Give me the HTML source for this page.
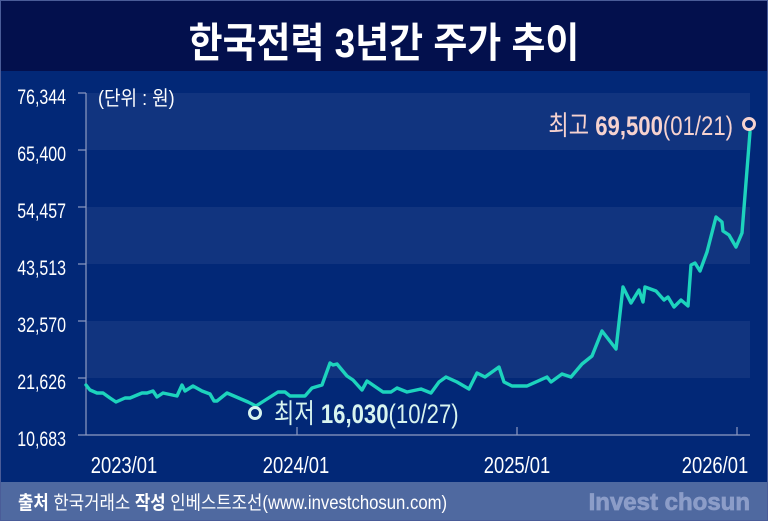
<!DOCTYPE html>
<html><head><meta charset="utf-8"><style>
html,body{margin:0;padding:0;}
body{width:768px;height:521px;overflow:hidden;background:#022877;font-family:"Liberation Sans","Noto Sans CJK KR",sans-serif;}
</style></head><body>
<svg width="768" height="521" viewBox="0 0 768 521" xmlns="http://www.w3.org/2000/svg" style="display:block">
<rect x="0" y="0" width="768" height="521" fill="#022877"/>
<rect x="0" y="0" width="768" height="71" fill="#03104d"/>
<rect x="0.5" y="0.5" width="767" height="520" fill="none" stroke="#4a5c98" stroke-width="1"/>
<text x="384" y="57" text-anchor="middle" fill="#fff" font-size="41" font-weight="bold" font-family="Liberation Sans Narrow,Liberation Sans,Noto Sans CJK KR,sans-serif" transform="translate(384 0) scale(0.9 1) translate(-384 0)">한국전력 3년간 주가 추이</text>
<g fill="#11347f">
<rect x="86" y="93" width="664" height="57"/>
<rect x="86" y="207" width="664" height="57"/>
<rect x="86" y="321" width="664" height="57"/>
</g>
<g stroke="#8e9bc2" stroke-width="1.2">
<line x1="86" y1="93" x2="86" y2="435"/>
<line x1="86" y1="435" x2="750" y2="435"/>
<line x1="297" y1="427" x2="297" y2="435"/>
<line x1="517" y1="427" x2="517" y2="435"/>
<line x1="737" y1="427" x2="737" y2="435"/>
<line x1="78" y1="93" x2="86" y2="93"/><line x1="78" y1="150" x2="86" y2="150"/><line x1="78" y1="207" x2="86" y2="207"/><line x1="78" y1="264" x2="86" y2="264"/><line x1="78" y1="321" x2="86" y2="321"/><line x1="78" y1="378" x2="86" y2="378"/><line x1="78" y1="435" x2="86" y2="435"/>
</g>
<g fill="#fff" font-size="21" text-anchor="end">
<text x="66" y="104" transform="translate(66 0) scale(0.76 1) translate(-66 0)">76,344</text>
<text x="66" y="161" transform="translate(66 0) scale(0.76 1) translate(-66 0)">65,400</text>
<text x="66" y="218" transform="translate(66 0) scale(0.76 1) translate(-66 0)">54,457</text>
<text x="66" y="275" transform="translate(66 0) scale(0.76 1) translate(-66 0)">43,513</text>
<text x="66" y="332" transform="translate(66 0) scale(0.76 1) translate(-66 0)">32,570</text>
<text x="66" y="389" transform="translate(66 0) scale(0.76 1) translate(-66 0)">21,626</text>
<text x="66" y="446" transform="translate(66 0) scale(0.76 1) translate(-66 0)">10,683</text>
</g>
<g fill="#fff" font-size="23" text-anchor="middle">
<text x="124" y="473" transform="translate(124 0) scale(0.8 1) translate(-124 0)">2023/01</text>
<text x="296" y="473" transform="translate(296 0) scale(0.8 1) translate(-296 0)">2024/01</text>
<text x="517" y="473" transform="translate(517 0) scale(0.8 1) translate(-517 0)">2025/01</text>
<text x="715" y="473" transform="translate(715 0) scale(0.8 1) translate(-715 0)">2026/01</text>
</g>
<text x="98" y="105" fill="#fff" font-size="20" transform="translate(98 0) scale(0.9 1) translate(-98 0)">(단위 : 원)</text>
<polyline fill="none" stroke="#1dd3bd" stroke-width="3.4" stroke-linejoin="round" stroke-linecap="round" points="86,385 90,390 97,393 103,393 110,398 116,402 125,398 130,398 142,393 147,393 153,391 157,397 163,393 177,396 182,385 185,391 193,386 202,391 210,394 214,401 217,401 227,393 248,402 256,406 278,392 285,392 290,396 305,396 312,388 322,385 330,363 333,365 337,364 347,376 353,380 362,390 367,381 383,392 391,392 397,388 407,392 421,389 431,393 439,382 446,377 457,382 469,389 477,373 485,377 499,367 504,382 512,386 527,386 547,377 551,382 562,374 571,377 582,364 592,356 602,331 616,349 623,287 631,303 639,290 643,302 645,287 656,291 664,300 668,297 674,307 681,300 688,306 691,265 695,263 700,271 707,252 716,217 722,222 723,231 729,235 736,247 742,233 750,132"/>
<circle cx="255" cy="413" r="5.5" fill="#022877" stroke="#d8f4ef" stroke-width="3"/>
<circle cx="749" cy="124" r="5.5" fill="#022877" stroke="#f6d2cf" stroke-width="3"/>
<text x="274" y="423" fill="#d8f4ef" font-size="27" transform="translate(274 0) scale(0.82 1) translate(-274 0)">최저 <tspan font-weight="bold">16,030</tspan>(10/27)</text>
<text x="733" y="135" fill="#f6d2cf" font-size="27" text-anchor="end" transform="translate(733 0) scale(0.82 1) translate(-733 0)">최고 <tspan font-weight="bold">69,500</tspan>(01/21)</text>
<rect x="1" y="482" width="766" height="38" fill="#4f69a0"/>
<text x="18" y="509" fill="#fff" font-size="19" transform="translate(18 0) scale(0.88 1) translate(-18 0)"><tspan font-weight="bold">출처</tspan> 한국거래소    <tspan font-weight="bold">작성</tspan> 인베스트조선(www.investchosun.com)</text>
<text x="750" y="510" fill="#8c9dc8" font-size="24" font-weight="bold" text-anchor="end" stroke="#8c9dc8" stroke-width="0.8">Invest chosun</text>
</svg>
</body></html>
